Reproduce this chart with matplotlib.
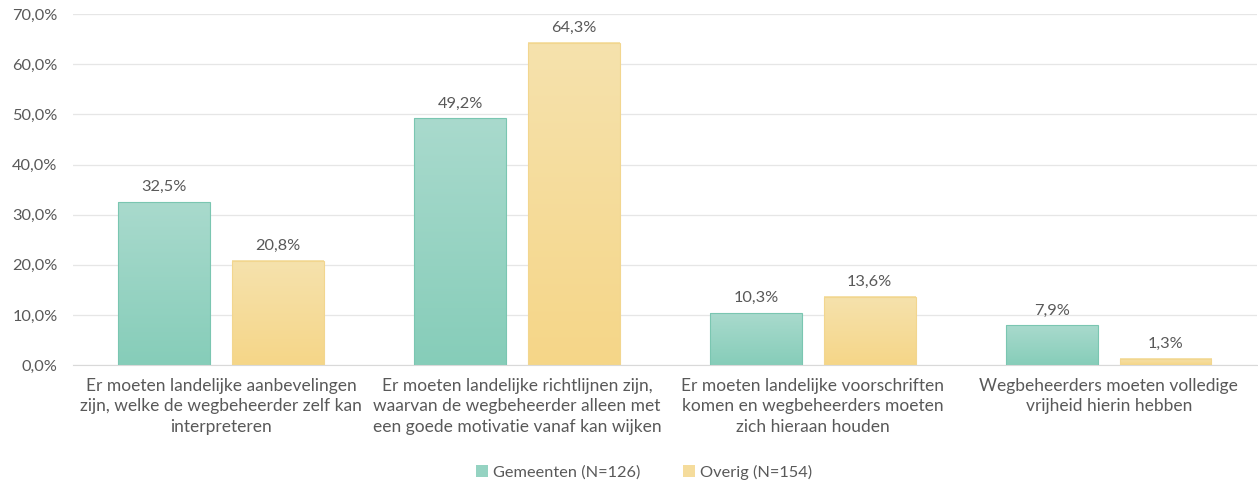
import matplotlib
matplotlib.use("Agg")
import matplotlib.pyplot as plt
import numpy as np
from matplotlib.colors import LinearSegmentedColormap
from matplotlib.patches import Patch

categories = [
    "Er moeten landelijke aanbevelingen\nzijn, welke de wegbeheerder zelf kan\ninterpreteren",
    "Er moeten landelijke richtlijnen zijn,\nwaarvan de wegbeheerder alleen met\neen goede motivatie vanaf kan wijken",
    "Er moeten landelijke voorschriften\nkomen en wegbeheerders moeten\nzich hieraan houden",
    "Wegbeheerders moeten volledige\nvrijheid hierin hebben",
]
gemeenten = [32.5, 49.2, 10.3, 7.9]
overig = [20.8, 64.3, 13.6, 1.3]
series_names = ["Gemeenten (N=126)", "Overig (N=154)"]
yticks = [0, 10, 20, 30, 40, 50, 60, 70]

plt.rcParams['font.family'] = ['Lato', 'DejaVu Sans']
txt = '#595959'
fs = 11.8

fig = plt.figure(figsize=(12.58, 4.88), dpi=100)
ax = fig.add_axes([0.058, 0.252, 0.941, 0.719])

x = np.arange(len(categories))
w = 0.31
off = 0.192
cmaps = [
    LinearSegmentedColormap.from_list('t', ['#86cdb9', '#a9dacd']),
    LinearSegmentedColormap.from_list('y', ['#f5d688', '#f6e2ad']),
]
edges = ['#7ac6b1', '#f2d68f']
legend_cols = ['#95d3c2', '#f5dc9c']

for si, (vals, sign) in enumerate([(gemeenten, -1), (overig, 1)]):
    bars = ax.bar(x + sign * off, vals, width=w, color='none', edgecolor=edges[si], linewidth=0.8, zorder=3)
    for b, v in zip(bars, vals):
        x0, y0, bw, bh = b.get_x(), b.get_y(), b.get_width(), b.get_height()
        grad = np.linspace(0, 1, 256).reshape(-1, 1)
        ax.imshow(grad, cmap=cmaps[si], origin='lower', aspect='auto',
                  extent=(x0, x0 + bw, y0, y0 + bh), zorder=2)
        ax.text(x0 + bw / 2, v + 1.6, f"{v:.1f}%".replace('.', ','), ha='center', va='bottom',
                fontsize=fs, color=txt)

ax.set_xlim(-0.5, len(categories) - 0.5)
ax.set_ylim(0, 70)
ax.set_yticks(yticks)
ax.set_yticklabels([f"{t:.1f}%".replace('.', ',') for t in yticks], fontsize=fs, color=txt)
ax.set_xticks(x)
ax.set_xticklabels(categories, fontsize=12.5, color=txt, linespacing=1.38)
ax.tick_params(axis='both', length=0)
ax.tick_params(axis='y', pad=11)
ax.tick_params(axis='x', pad=9)
ax.grid(axis='y', color='#e6e6e6', linewidth=0.9, zorder=0)
ax.set_axisbelow(True)
for s in ['top', 'right', 'left']:
    ax.spines[s].set_visible(False)
ax.spines['bottom'].set_color('#d9d9d9')

handles = [Patch(facecolor=legend_cols[0], edgecolor='none'), Patch(facecolor=legend_cols[1], edgecolor='none')]
fig.legend(handles, series_names, loc='center', bbox_to_anchor=(0.512, 0.032), ncol=2, frameon=False,
           fontsize=fs, labelcolor=txt, handlelength=0.75, handleheight=0.75, handletextpad=0.3,
           columnspacing=2.6)

fig.savefig('out.png', dpi=100)
